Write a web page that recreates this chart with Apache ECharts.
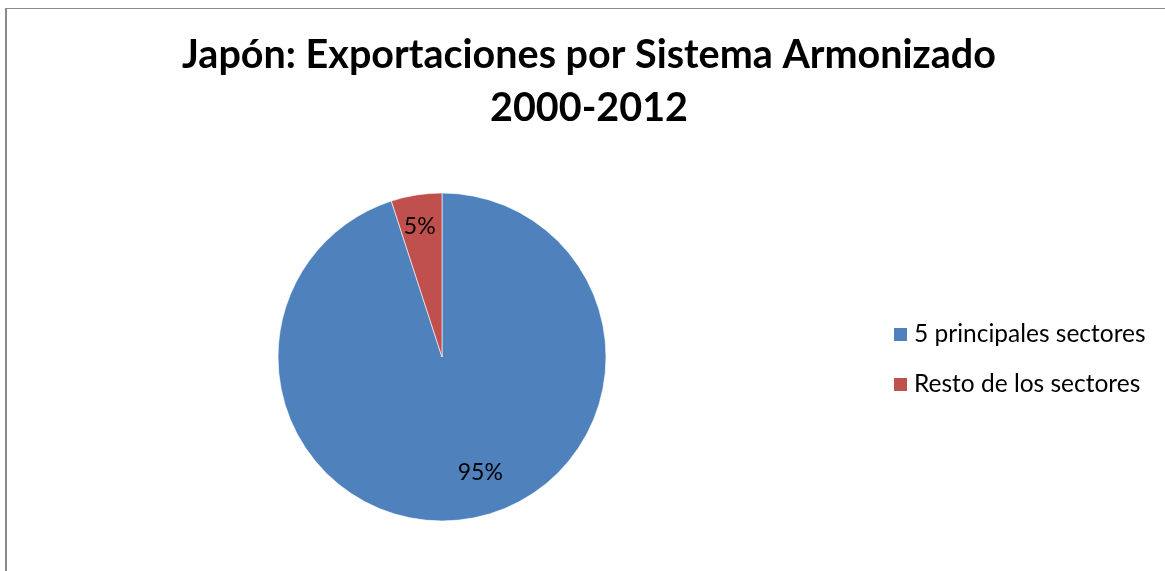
<!DOCTYPE html>
<html>
<head>
<meta charset="utf-8">
<script src="https://cdn.jsdelivr.net/npm/echarts@6/dist/echarts.min.js"></script>
<style>
  html, body { margin: 0; padding: 0; background: #ffffff; }
  #chart { width: 1165px; height: 571px; }
</style>
</head>
<body>
<div id="chart"></div>
<script>
// Export share by sector group, Japan 2000-2012
const categories = ['5 principales sectores', 'Resto de los sectores'];
const shares = [95, 5];
const colors = ['#4F81BD', '#C0504D'];
const titleText = 'Japón: Exportaciones por Sistema Armonizado\n2000-2012';

// label nudges so the percentages sit where Excel-style layouts put them
const labelNudge = [[25, 32], [-9, -46]];

const chart = echarts.init(document.getElementById('chart'), null, { renderer: 'canvas' });

const option = {
  backgroundColor: '#ffffff',
  animation: false,
  color: colors,
  title: {
    text: titleText,
    left: 589,
    top: 29,
    padding: 0,
    textAlign: 'center',
    textStyle: {
      fontFamily: 'Lato',
      fontWeight: 'bold',
      fontSize: 39.5,
      lineHeight: 53,
      color: '#000000'
    }
  },
  legend: {
    orient: 'vertical',
    left: 892,
    top: 322,
    padding: 0,
    itemWidth: 15,
    itemHeight: 15,
    itemGap: 25,
    icon: 'rect',
    textStyle: {
      fontFamily: 'Lato',
      fontSize: 24.5,
      lineHeight: 24,
      color: '#000000',
      padding: [0, 0, 0, 1]
    },
    data: categories
  },
  graphic: [
    {
      type: 'line',
      shape: { x1: 5, y1: 8.5, x2: 1165, y2: 8.5 },
      style: { stroke: '#8a8a8a', lineWidth: 1 }
    },
    {
      type: 'line',
      shape: { x1: 6, y1: 8, x2: 6, y2: 571 },
      style: { stroke: '#8a8a8a', lineWidth: 2 }
    }
  ],
  series: [
    {
      type: 'pie',
      center: [442, 357],
      radius: 164,
      startAngle: 90,
      clockwise: true,
      avoidLabelOverlap: false,
      itemStyle: { borderColor: '#ffffff', borderWidth: 0.6 },
      label: {
        show: true,
        position: 'inside',
        formatter: '{d}%',
        fontFamily: 'Lato',
        fontSize: 23,
        color: '#000000'
      },
      labelLine: { show: false },
      labelLayout: function (params) {
        const n = labelNudge[params.dataIndex];
        return { dx: n[0], dy: n[1] };
      },
      emphasis: { disabled: true },
      data: categories.map((name, i) => ({ name: name, value: shares[i] }))
    }
  ]
};

chart.setOption(option);
</script>
</body>
</html>
